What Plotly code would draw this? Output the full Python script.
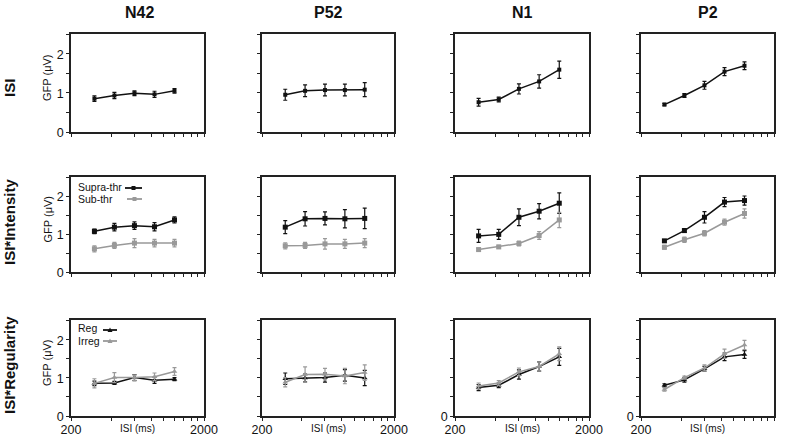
import plotly.graph_objects as go

W, H = 787, 435

# ---------------- data ----------------
ISI = [300, 424, 600, 849, 1200]
components = ["N42", "P52", "N1", "P2"]
row_labels = ["ISI", "ISI*Intensity", "ISI*Regularity"]

# Row 1: ISI main effect
isi_N42 = [0.85, 0.93, 0.99, 0.96, 1.05]
isi_N42_err = [0.07, 0.08, 0.06, 0.08, 0.06]
isi_P52 = [0.95, 1.05, 1.07, 1.07, 1.08]
isi_P52_err = [0.14, 0.15, 0.15, 0.15, 0.18]
isi_N1 = [0.76, 0.83, 1.10, 1.29, 1.59]
isi_N1_err = [0.10, 0.06, 0.13, 0.17, 0.22]
isi_P2 = [0.70, 0.93, 1.19, 1.54, 1.69]
isi_P2_err = [0.03, 0.05, 0.10, 0.10, 0.10]

# Row 2: ISI x Intensity
supra_N42 = [1.07, 1.18, 1.22, 1.19, 1.37]
supra_N42_err = [0.06, 0.10, 0.10, 0.11, 0.08]
sub_N42 = [0.61, 0.70, 0.76, 0.76, 0.76]
sub_N42_err = [0.08, 0.08, 0.12, 0.10, 0.10]
supra_P52 = [1.18, 1.40, 1.41, 1.40, 1.41]
supra_P52_err = [0.17, 0.19, 0.17, 0.24, 0.27]
sub_P52 = [0.69, 0.70, 0.74, 0.74, 0.76]
sub_P52_err = [0.08, 0.08, 0.14, 0.12, 0.12]
supra_N1 = [0.95, 0.99, 1.44, 1.60, 1.81]
supra_N1_err = [0.17, 0.13, 0.22, 0.20, 0.27]
sub_N1 = [0.59, 0.66, 0.75, 0.96, 1.37]
sub_N1_err = [0.03, 0.04, 0.06, 0.10, 0.20]
supra_P2 = [0.82, 1.09, 1.44, 1.84, 1.88]
supra_P2_err = [0.02, 0.05, 0.15, 0.12, 0.12]
sub_P2 = [0.65, 0.85, 1.02, 1.31, 1.54]
sub_P2_err = [0.05, 0.07, 0.07, 0.08, 0.12]

# Row 3: ISI x Regularity
reg_N42 = [0.85, 0.86, 1.00, 0.93, 0.96]
reg_N42_err = [0.06, 0.04, 0.08, 0.08, 0.04]
irreg_N42 = [0.85, 1.00, 1.00, 1.02, 1.16]
irreg_N42_err = [0.12, 0.13, 0.07, 0.10, 0.10]
reg_P52 = [0.97, 0.99, 1.00, 1.06, 0.99]
reg_P52_err = [0.15, 0.10, 0.12, 0.15, 0.20]
irreg_P52 = [0.88, 1.08, 1.09, 1.04, 1.13]
irreg_P52_err = [0.12, 0.20, 0.15, 0.20, 0.20]
reg_N1 = [0.74, 0.80, 1.08, 1.29, 1.54]
reg_N1_err = [0.08, 0.06, 0.12, 0.12, 0.22]
irreg_N1 = [0.78, 0.86, 1.15, 1.29, 1.62]
irreg_N1_err = [0.08, 0.06, 0.10, 0.12, 0.18]
reg_P2 = [0.80, 0.94, 1.23, 1.54, 1.60]
reg_P2_err = [0.04, 0.06, 0.06, 0.10, 0.10]
irreg_P2 = [0.69, 1.00, 1.25, 1.62, 1.85]
irreg_P2_err = [0.04, 0.04, 0.08, 0.12, 0.12]

x_ticks = [200, 400, 600, 800, 1000, 1200, 1400, 1600, 1800, 2000]
y_ticks = [0, 0.5, 1, 1.5, 2, 2.5]

BLACK = "#111111"
GREY = "#999999"

# ---------------- layout geometry (pixels) ----------------
col_px = [(71, 204), (262, 394), (455, 589), (641, 774)]
row_px = [(34, 132), (177, 272), (320, 416)]

rows = [
    [[(isi_N42, isi_N42_err, BLACK, "square", 4)],
     [(isi_P52, isi_P52_err, BLACK, "square", 4)],
     [(isi_N1, isi_N1_err, BLACK, "square", 4)],
     [(isi_P2, isi_P2_err, BLACK, "square", 4)]],
    [[(supra_N42, supra_N42_err, BLACK, "square", 5), (sub_N42, sub_N42_err, GREY, "square", 5)],
     [(supra_P52, supra_P52_err, BLACK, "square", 5), (sub_P52, sub_P52_err, GREY, "square", 5)],
     [(supra_N1, supra_N1_err, BLACK, "square", 5), (sub_N1, sub_N1_err, GREY, "square", 5)],
     [(supra_P2, supra_P2_err, BLACK, "square", 5), (sub_P2, sub_P2_err, GREY, "square", 5)]],
    [[(reg_N42, reg_N42_err, BLACK, "triangle-up", 5), (irreg_N42, irreg_N42_err, GREY, "triangle-up", 5)],
     [(reg_P52, reg_P52_err, BLACK, "triangle-up", 5), (irreg_P52, irreg_P52_err, GREY, "triangle-up", 5)],
     [(reg_N1, reg_N1_err, BLACK, "triangle-up", 5), (irreg_N1, irreg_N1_err, GREY, "triangle-up", 5)],
     [(reg_P2, reg_P2_err, BLACK, "triangle-up", 5), (irreg_P2, irreg_P2_err, GREY, "triangle-up", 5)]],
]

fig = go.Figure()
layout = {}
FONT = "Liberation Sans, Arial, sans-serif"

idx = 0
for r in range(3):
    for c in range(4):
        idx += 1
        xa = "xaxis" if idx == 1 else f"xaxis{idx}"
        ya = "yaxis" if idx == 1 else f"yaxis{idx}"
        xr = "x" if idx == 1 else f"x{idx}"
        yr = "y" if idx == 1 else f"y{idx}"
        x0, x1 = col_px[c]
        t, b = row_px[r]
        if r == 2:
            xt = ["200" if v == 200 else ("2000" if v == 2000 else "") for v in x_ticks]
        else:
            xt = ["" for v in x_ticks]
        if c == 0:
            yt = [("%d" % v) if v in (0, 1, 2) else "" for v in y_ticks]
        elif r == 2 and c in (2, 3):
            yt = ["0" if v == 0 else "" for v in y_ticks]
        else:
            yt = ["" for v in y_ticks]
        layout[xa] = dict(
            domain=[x0 / W, x1 / W], anchor=yr, type="log",
            range=[2.30103, 3.30103], tickvals=x_ticks, ticktext=xt,
            ticks="outside", ticklen=3, tickwidth=1, tickcolor="#222",
            ticklabelstandoff=-2,
            showline=True, linecolor="#222", linewidth=1.5, mirror=True,
            showgrid=False, zeroline=False, automargin=False,
            tickfont=dict(family=FONT, size=12.5, color="#111"),
        )
        layout[ya] = dict(
            domain=[1 - b / H, 1 - t / H], anchor=xr,
            range=[0, 2.5], tickvals=y_ticks, ticktext=yt,
            ticks="outside", ticklen=3, tickwidth=1, tickcolor="#222",
            ticklabelshift=1,
            showline=True, linecolor="#222", linewidth=1.5, mirror=True,
            showgrid=False, zeroline=False, automargin=False,
            tickfont=dict(family=FONT, size=12.5, color="#111"),
        )
        for (vals, errs, col, sym, ms) in rows[r][c]:
            fig.add_trace(go.Scatter(
                x=ISI, y=vals, xaxis=xr, yaxis=yr, mode="lines+markers",
                line=dict(color=col, width=1.5),
                marker=dict(color=col, symbol=sym, size=ms),
                error_y=dict(type="data", array=errs, visible=True,
                             color=col, thickness=1.2, width=2),
                showlegend=False, hoverinfo="skip",
            ))

annotations = []
col_centers = [139, 328, 522, 708]
for name, cx in zip(components, col_centers):
    annotations.append(dict(text=f"<b>{name}</b>", x=cx / W, y=1 - 12 / H,
                            xref="paper", yref="paper", showarrow=False,
                            xanchor="center", yanchor="middle",
                            font=dict(family=FONT, size=16, color="#111")))
row_centers = [88, 222, 365]
for lab, cy in zip(row_labels, row_centers):
    annotations.append(dict(text=f"<b>{lab}</b>", x=9 / W, y=1 - cy / H,
                            xref="paper", yref="paper", showarrow=False,
                            textangle=-90, xanchor="center", yanchor="middle",
                            font=dict(family=FONT, size=15, color="#111")))
for (t, b) in row_px:
    annotations.append(dict(text="GFP (μV)", x=47 / W, y=1 - ((t + b) / 2 - 5) / H,
                            xref="paper", yref="paper", showarrow=False,
                            textangle=-90, xanchor="center", yanchor="middle",
                            font=dict(family=FONT, size=11, color="#111")))
for (x0, x1) in col_px:
    annotations.append(dict(text="ISI (ms)", x=((x0 + x1) / 2) / W, y=1 - 428 / H,
                            xref="paper", yref="paper", showarrow=False,
                            xanchor="center", yanchor="middle",
                            font=dict(family=FONT, size=10, color="#111")))

shapes = []
legend_items = [
    ("Supra-thr", 187, 188, BLACK, "square", 125, 142),
    ("Sub-thr", 199, 199, GREY, "square", 127, 142),
    ("Reg", 328, 330, BLACK, "triangle", 103, 117),
    ("Irreg", 341, 341, GREY, "triangle", 103, 117),
]
for lab, ty, ly, col, sym, lx0, lx1 in legend_items:
    annotations.append(dict(text=lab, x=76 / W, y=1 - ty / H, xref="paper", yref="paper",
                            showarrow=False, xanchor="left", yanchor="middle",
                            font=dict(family=FONT, size=10.5, color="#111")))
    shapes.append(dict(type="line", xref="paper", yref="paper",
                       x0=lx0 / W, x1=lx1 / W, y0=1 - ly / H, y1=1 - ly / H,
                       line=dict(color=col, width=1.8)))
    mx = (lx0 + lx1) / 2
    if sym == "square":
        shapes.append(dict(type="rect", xref="paper", yref="paper",
                           x0=(mx - 2) / W, x1=(mx + 2) / W,
                           y0=1 - (ly + 2) / H, y1=1 - (ly - 2) / H,
                           fillcolor=col, line=dict(width=0)))
    else:
        shapes.append(dict(type="path", xref="paper", yref="paper",
                           path=f"M {(mx-2.5)/W} {1-(ly+2)/H} L {(mx+2.5)/W} {1-(ly+2)/H} L {mx/W} {1-(ly-2.5)/H} Z",
                           fillcolor=col, line=dict(width=0)))

fig.update_layout(
    width=W, height=H, margin=dict(l=0, r=0, t=0, b=0, autoexpand=False),
    paper_bgcolor="white", plot_bgcolor="white",
    annotations=annotations, shapes=shapes, showlegend=False,
    **layout,
)

fig.write_html("out.html", config={"displayModeBar": False},
               post_script="document.body.style.margin='0';document.body.style.overflow='hidden';")
